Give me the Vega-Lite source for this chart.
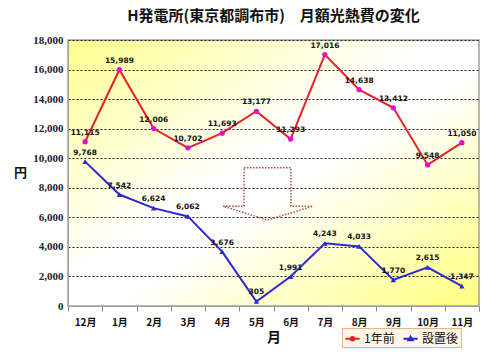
{
  "$schema": "https://vega.github.io/schema/vega-lite/v6.json",
  "width": 411,
  "height": 266,
  "autosize": {"type": "none"},
  "padding": {"left": 68, "top": 40, "right": 19, "bottom": 57},
  "background": "white",
  "title": {
    "text": "H発電所(東京都調布市)　月額光熱費の変化",
    "fontSize": 15,
    "fontWeight": "bold",
    "font": "Noto Sans CJK JP",
    "color": "#111111",
    "anchor": "middle",
    "offset": 10
  },
  "config": {
    "view": {
      "stroke": "#a0a0a0",
      "strokeWidth": 1.5,
      "fill": {
        "gradient": "linear",
        "x1": 0, "y1": 0, "x2": 1, "y2": 1,
        "stops": [
          {"offset": 0, "color": "#ffff90"},
          {"offset": 0.45, "color": "#ffffff"},
          {"offset": 0.55, "color": "#ffffff"},
          {"offset": 1, "color": "#ffff80"}
        ]
      }
    }
  },
  "datasets": {
    "series": [
      {"month": "12月", "series": "1年前", "value": 11115},
      {"month": "1月", "series": "1年前", "value": 15989},
      {"month": "2月", "series": "1年前", "value": 12006},
      {"month": "3月", "series": "1年前", "value": 10702},
      {"month": "4月", "series": "1年前", "value": 11693},
      {"month": "5月", "series": "1年前", "value": 13177},
      {"month": "6月", "series": "1年前", "value": 11293},
      {"month": "7月", "series": "1年前", "value": 17016},
      {"month": "8月", "series": "1年前", "value": 14638},
      {"month": "9月", "series": "1年前", "value": 13412},
      {"month": "10月", "series": "1年前", "value": 9548},
      {"month": "11月", "series": "1年前", "value": 11050},
      {"month": "12月", "series": "設置後", "value": 9768},
      {"month": "1月", "series": "設置後", "value": 7542},
      {"month": "2月", "series": "設置後", "value": 6624},
      {"month": "3月", "series": "設置後", "value": 6062},
      {"month": "4月", "series": "設置後", "value": 3676},
      {"month": "5月", "series": "設置後", "value": 305},
      {"month": "6月", "series": "設置後", "value": 1991},
      {"month": "7月", "series": "設置後", "value": 4243},
      {"month": "8月", "series": "設置後", "value": 4033},
      {"month": "9月", "series": "設置後", "value": 1770},
      {"month": "10月", "series": "設置後", "value": 2615},
      {"month": "11月", "series": "設置後", "value": 1347}
    ],
    "arrow": [
      {"i": 1, "px": 4.64, "py": 9350},
      {"i": 2, "px": 6.01, "py": 9350},
      {"i": 3, "px": 6.01, "py": 6750},
      {"i": 4, "px": 6.65, "py": 6750},
      {"i": 5, "px": 5.32, "py": 5820},
      {"i": 6, "px": 4.03, "py": 6750},
      {"i": 7, "px": 4.64, "py": 6750},
      {"i": 8, "px": 4.64, "py": 9350}
    ]
  },
  "layer": [
    {
      "data": {"name": "series"},
      "encoding": {
        "x": {
          "field": "month", "type": "ordinal", "sort": null,
          "scale": {"type": "band", "paddingInner": 0, "paddingOuter": 0},
          "axis": {
            "title": "月",
            "titleFont": "Noto Sans CJK JP",
            "titleFontSize": 14,
            "titleFontWeight": "bold",
            "titleColor": "#111111",
            "titleY": 31,
            "titleBaseline": "middle",
            "labelAngle": 0,
            "labelFont": "Noto Sans CJK JP",
            "labelFontSize": 10,
            "labelFontWeight": "bold",
            "labelColor": "#111111",
            "labelPadding": 6,
            "tickBand": "extent",
            "tickSize": 5,
            "tickColor": "#888888",
            "domainColor": "#a0a0a0",
            "grid": false
          }
        },
        "y": {
          "field": "value", "type": "quantitative",
          "scale": {"domain": [0, 18000]},
          "axis": {
            "values": [0, 2000, 4000, 6000, 8000, 10000, 12000, 14000, 16000, 18000],
            "format": ",.0f",
            "title": "円",
            "titleAngle": 0,
            "titleFont": "Noto Sans CJK JP",
            "titleFontSize": 13,
            "titleFontWeight": "bold",
            "titleColor": "#111111",
            "titleX": -48,
            "titleY": 132,
            "titleAlign": "center",
            "titleBaseline": "middle",
            "labelFont": "Liberation Serif",
            "labelFontSize": 11,
            "labelFontWeight": "bold",
            "labelColor": "#222222",
            "labelPadding": 5,
            "ticks": false,
            "domainColor": "#a0a0a0",
            "grid": true,
            "gridColor": "#222222",
            "gridDash": [2, 2],
            "gridWidth": 1
          }
        }
      },
      "layer": [
        {
          "mark": {"type": "line", "strokeWidth": 2},
          "encoding": {
            "color": {
              "field": "series", "type": "nominal",
              "scale": {"domain": ["1年前", "設置後"], "range": ["#e8202a", "#2a2ad0"]},
              "legend": {
                "title": null,
                "orient": "none",
                "direction": "horizontal",
                "legendX": 274,
                "legendY": 288,
                "fillColor": "#fff6e8",
                "strokeColor": "#f0b080",
                "padding": 2,
                "labelFont": "Noto Sans CJK JP",
                "labelFontSize": 12,
                "labelColor": "#111111",
                "symbolType": "M-1,0H1M-0.3,0A0.3,0.3 0 1,0 0.3,0A0.3,0.3 0 1,0 -0.3,0",
                "symbolSize": 200,
                "symbolStrokeWidth": 2,
                "columnPadding": 4,
                "labelOffset": 3,
                "encode": {
                  "symbols": {
                    "update": {
                      "fill": {"signal": "datum.value === '1年前' ? '#dd11cc' : '#2a2ad0'"},
                      "shape": {"signal": "datum.value === '1年前' ? 'M-1,0H1M-0.25,0A0.25,0.25 0 1,0 0.25,0A0.25,0.25 0 1,0 -0.25,0' : 'M-1,0H1M0,-0.3L0.3,0.22L-0.3,0.22Z'"}
                    }
                  }
                }
              }
            }
          }
        },
        {
          "transform": [{"filter": "datum.series === '1年前'"}],
          "mark": {"type": "point", "shape": "circle", "filled": true, "size": 28, "color": "#dd11cc", "opacity": 1}
        },
        {
          "transform": [{"filter": "datum.series === '設置後'"}],
          "mark": {"type": "point", "shape": "triangle-up", "filled": true, "size": 30, "color": "#2a2ad0", "opacity": 1}
        },
        {
          "mark": {"type": "text", "dy": -9, "fontSize": 7.5, "fontWeight": "bold", "font": "DejaVu Sans", "color": "#111111"},
          "encoding": {
            "text": {"field": "value", "type": "quantitative", "format": ","}
          }
        }
      ]
    },
    {
      "data": {"name": "arrow"},
      "mark": {"type": "line", "stroke": "#b05040", "strokeWidth": 1.5, "strokeDash": [1.5, 1.5]},
      "encoding": {
        "x": {"field": "px", "type": "quantitative", "scale": {"domain": [-0.5, 11.5], "nice": false, "zero": false}, "axis": null},
        "y": {"field": "py", "type": "quantitative", "axis": null},
        "order": {"field": "i", "type": "quantitative"}
      }
    }
  ],
  "resolve": {"scale": {"x": "independent", "y": "shared"}, "axis": {"y": "independent"}}
}
